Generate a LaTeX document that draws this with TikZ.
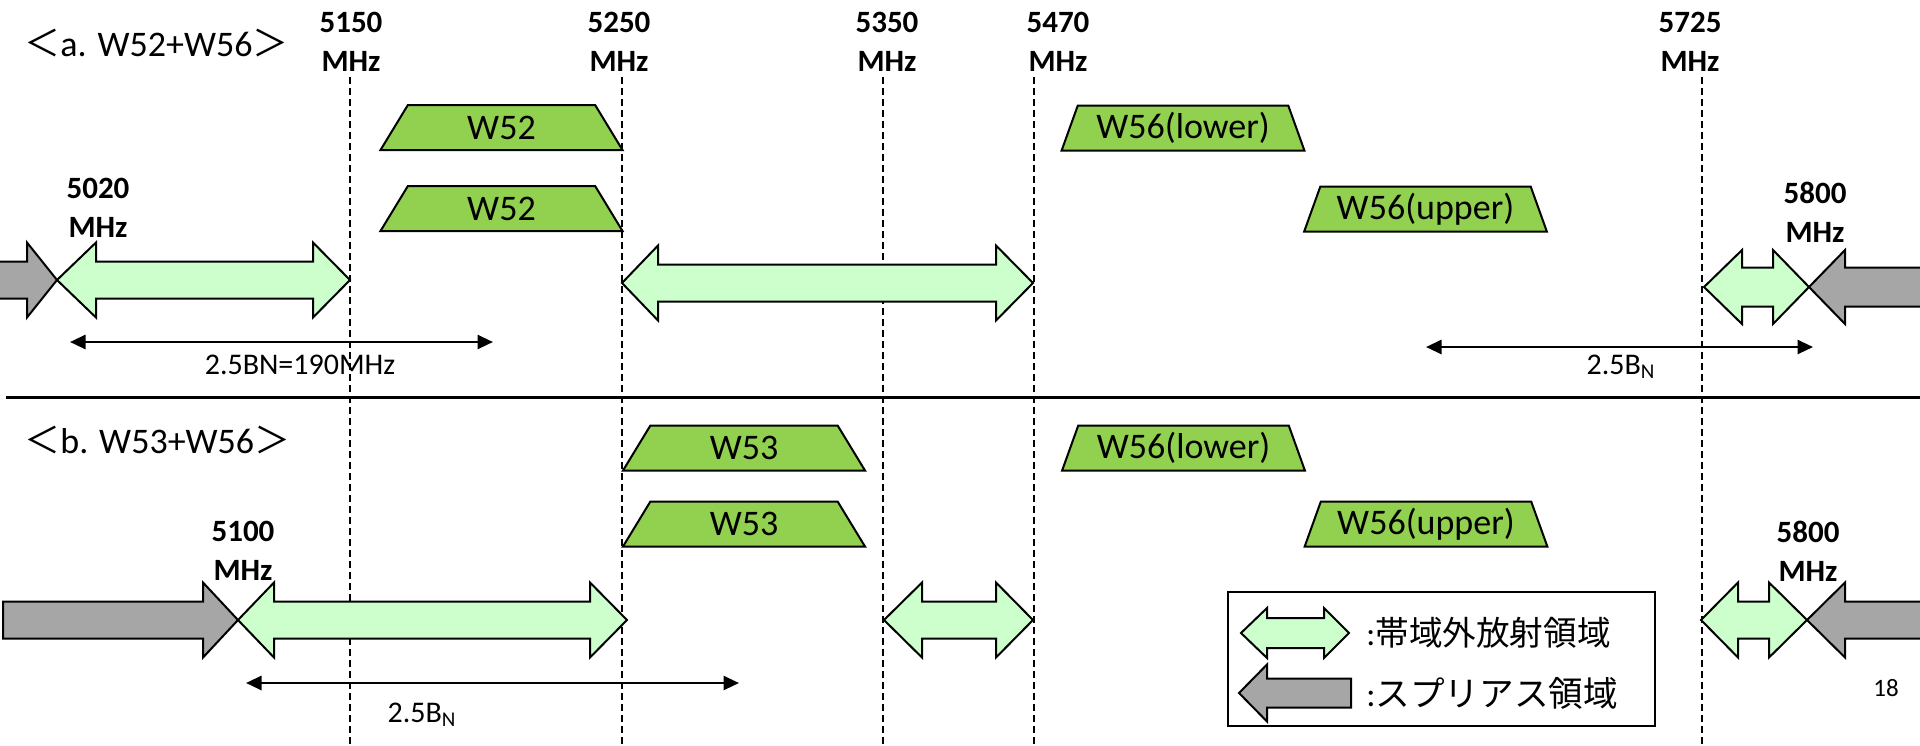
\documentclass[tikz,border=0pt]{standalone}
\usepackage{fontspec}
\setmainfont{Carlito}
\newfontfamily\cjk{Noto Sans CJK JP}
\usetikzlibrary{shapes.geometric,arrows.meta}
\definecolor{bandgreen}{HTML}{92D050}
\definecolor{oobgreen}{HTML}{CCFFCC}
\definecolor{spurgray}{HTML}{A6A6A6}

\begin{document}
\begin{tikzpicture}[x=0.5pt, y=-0.5pt,
  band/.style={draw, fill=bandgreen, line width=1pt, trapezium, trapezium left angle=67, trapezium right angle=67, trapezium stretches=true, minimum width=121.5pt, minimum height=22.5pt, inner sep=0pt, font=\fontsize{18}{21}\selectfont},
  freq/.style={align=center, font=\bfseries\fontsize{15.5}{19.5}\selectfont, inner sep=0pt},
  freqline/.style={line width=1pt, dash pattern=on 3.5pt off 2pt},
  oob/.style={draw, fill=oobgreen, line width=1pt},
  spur/.style={draw, fill=spurgray, line width=1pt},
  dimarrow/.style={line width=1.3pt, {Triangle[length=7.75pt,width=7pt]}-{Triangle[length=7.75pt,width=7pt]}},
  dimlabel/.style={font=\fontsize{15}{18}\selectfont, inner sep=0pt},
  title/.style={anchor=west, font=\fontsize{18}{21}\selectfont, inner sep=0pt}]
  \useasboundingbox (0,0) rectangle (1920,745);
  \clip (0,0) rectangle (1920,745);

  % Frequency lines
  \draw[freqline] (350,77) -- (350,745);
  \draw[freqline] (622,77) -- (622,745);
  \draw[freqline] (883,77) -- (883,745);
  \draw[freqline] (1034,77) -- (1034,745);
  \draw[freqline] (1702,77) -- (1702,745);

  % Separator
  \draw[line width=1.5pt] (6,397) -- (1920,397);

  % Titles
  \node[title] (titleA) at (24,43) {{\cjk ＜}a. W52+W56{\cjk ＞}};
  \node[title] (titleB) at (24,440) {{\cjk ＜}b. W53+W56{\cjk ＞}};

  % Frequency labels
  \node[freq] (f5150) at (351,42) {5150\\MHz};
  \node[freq] (f5250) at (619,42) {5250\\MHz};
  \node[freq] (f5350) at (887,42) {5350\\MHz};
  \node[freq] (f5470) at (1058,42) {5470\\MHz};
  \node[freq] (f5725) at (1690,42) {5725\\MHz};
  \node[freq] (f5020) at (98,208) {5020\\MHz};
  \node[freq] (f5800a) at (1815,212) {5800\\MHz};
  \node[freq] (f5100) at (243,551) {5100\\MHz};
  \node[freq] (f5800b) at (1808,551) {5800\\MHz};

  % Bands (a)
  \node[band] (w52a) at (501.5,127.5) {W52};
  \node[band] (w52b) at (501.5,208.5) {W52};
  \node[band] (w56la) at (1183,128) {W56(lower)};
  \node[band] (w56ua) at (1425.5,209) {W56(upper)};

  % Bands (b)
  \node[band] (w53a) at (744,448) {W53};
  \node[band] (w53b) at (744,524) {W53};
  \node[band] (w56lb) at (1183.5,448) {W56(lower)};
  \node[band] (w56ub) at (1426,524) {W56(upper)};

  % Spurious / out-of-band arrows (a)
  \draw[spur] (-10,261.5) -- (27,261.5) -- (27,242.5) -- (57,280) -- (27,317.5) -- (27,298.5) -- (-10,298.5) -- cycle;
  \draw[oob] (57,280) -- (96,242.5) -- (96,261.5) -- (313,261.5) -- (313,242.5) -- (350,280) -- (313,317.5) -- (313,298.5) -- (96,298.5) -- (96,317.5) -- cycle;
  \draw[oob] (622,283) -- (658,245.5) -- (658,264.5) -- (996,264.5) -- (996,245.5) -- (1033,283) -- (996,320.5) -- (996,301.5) -- (658,301.5) -- (658,320.5) -- cycle;
  \draw[oob] (1704,287) -- (1742,250) -- (1742,267.5) -- (1773,267.5) -- (1773,250) -- (1809,287) -- (1773,324) -- (1773,306.5) -- (1742,306.5) -- (1742,324) -- cycle;
  \draw[spur] (1809,287) -- (1845,250) -- (1845,267.5) -- (1930,267.5) -- (1930,306.5) -- (1845,306.5) -- (1845,324) -- cycle;

  % Spurious / out-of-band arrows (b)
  \draw[spur] (3,601.5) -- (203,601.5) -- (203,582.5) -- (238,620) -- (203,657.5) -- (203,638.5) -- (3,638.5) -- cycle;
  \draw[oob] (238,620) -- (274,582.5) -- (274,601.5) -- (590,601.5) -- (590,582.5) -- (627,620) -- (590,657.5) -- (590,638.5) -- (274,638.5) -- (274,657.5) -- cycle;
  \draw[oob] (884,620) -- (922,582.5) -- (922,601.5) -- (996,601.5) -- (996,582.5) -- (1033,620) -- (996,657.5) -- (996,638.5) -- (922,638.5) -- (922,657.5) -- cycle;
  \draw[oob] (1701,620) -- (1738,582.5) -- (1738,601.5) -- (1769,601.5) -- (1769,582.5) -- (1807,620) -- (1769,657.5) -- (1769,638.5) -- (1738,638.5) -- (1738,657.5) -- cycle;
  \draw[spur] (1807,620) -- (1845,582.5) -- (1845,601.5) -- (1930,601.5) -- (1930,638.5) -- (1845,638.5) -- (1845,657.5) -- cycle;

  % 2.5BN spans
  \coordinate (spanA1) at (70,342);
  \coordinate (spanA2) at (493,342);
  \coordinate (spanA3) at (1426,347);
  \coordinate (spanA4) at (1813,347);
  \coordinate (spanB1) at (246,683);
  \coordinate (spanB2) at (739,683);
  \draw[dimarrow] (spanA1) -- (spanA2);
  \draw[dimarrow] (spanA3) -- (spanA4);
  \draw[dimarrow] (spanB1) -- (spanB2);
  \node[dimlabel] (bnA1) at (300,365) {2.5BN=190MHz};
  \node[dimlabel] (bnA2) at (1621,367) {2.5B\textsubscript{N}};
  \node[dimlabel] (bnB) at (422,715) {2.5B\textsubscript{N}};

  % Legend
  \draw[line width=1pt] (1228,592) rectangle (1655,726);
  \draw[oob] (1241,633) -- (1267,608) -- (1267,618) -- (1324,618) -- (1324,608) -- (1349,633) -- (1324,658) -- (1324,648) -- (1267,648) -- (1267,658) -- cycle;
  \draw[spur] (1239,693) -- (1267,664.5) -- (1267,678.5) -- (1351,678.5) -- (1351,707.5) -- (1267,707.5) -- (1267,721.5) -- cycle;
  \node[anchor=west, inner sep=0pt, font=\fontsize{16.8}{19}\selectfont] (legoob) at (1366,633) {:\cjk 帯域外放射領域};
  \node[anchor=west, inner sep=0pt, font=\fontsize{17.3}{20}\selectfont] (legspur) at (1366,693) {:\cjk スプリアス領域};

  % Page number
  \node[font=\fontsize{12.5}{15}\selectfont] (pagenum) at (1886,688) {18};
\end{tikzpicture}
\end{document}
